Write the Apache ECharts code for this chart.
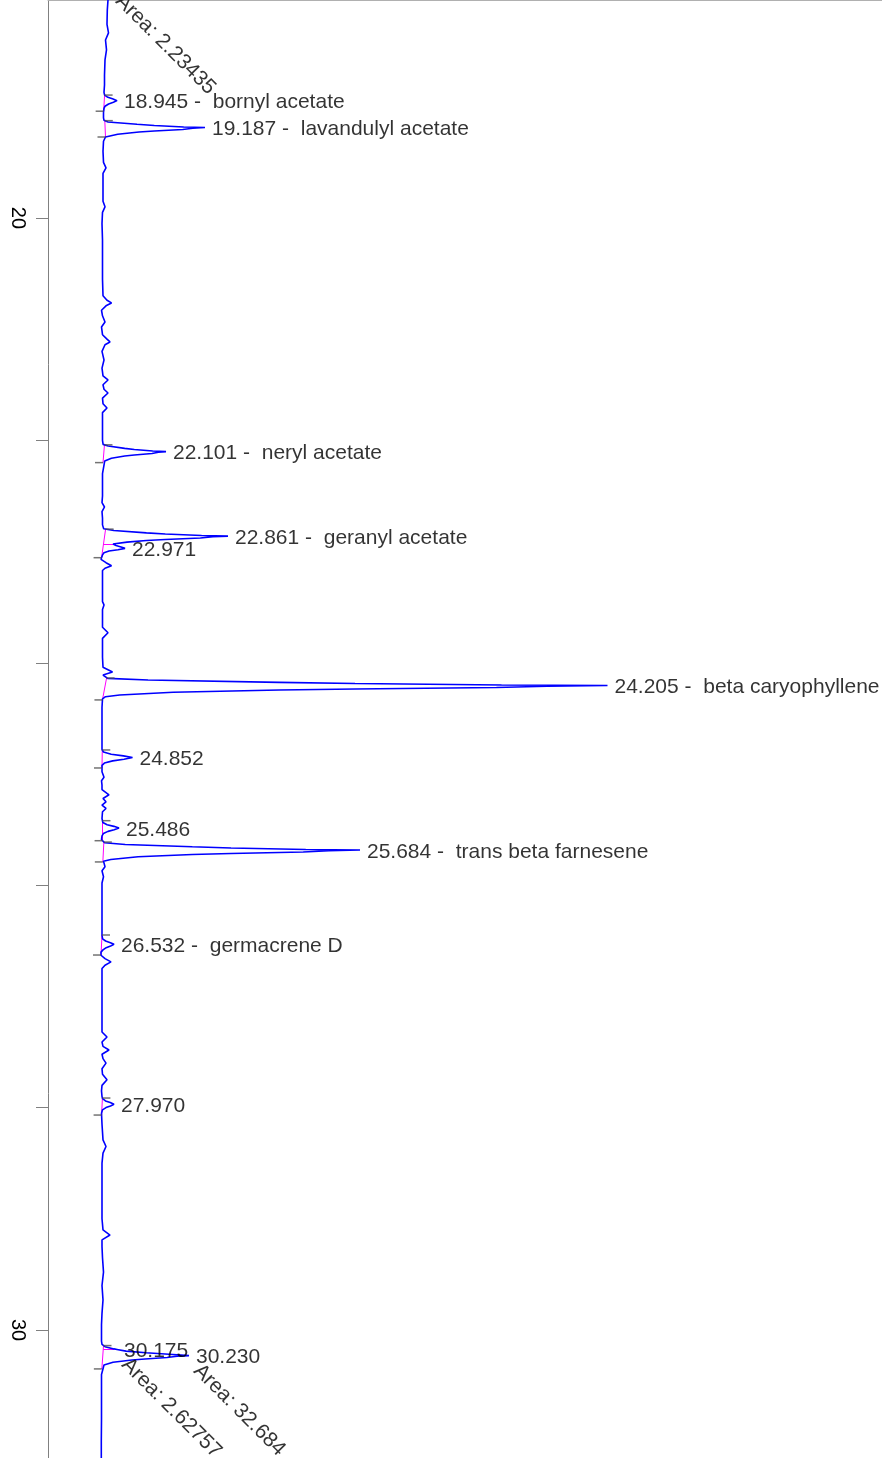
<!DOCTYPE html>
<html><head><meta charset="utf-8">
<script src="https://cdn.jsdelivr.net/npm/echarts@6/dist/echarts.min.js"></script>
<style>html,body{margin:0;padding:0;background:#fff}#c{width:882px;height:1458px}</style>
</head><body><div id="c"></div>
<script>
// Retention time (min) of each sampled point of the trace, and detector signal
const traceTimes = [17.913,17.99,18.04,18.13,18.26,18.336,18.40,18.489,18.579,18.714,18.804,18.87,
18.895,18.915,18.93,18.945,18.96,18.975,18.995,19.015,19.05,19.10,
19.122,19.137,19.158,19.168,19.182,19.187,19.193,19.204,19.218,19.227,19.247,19.272,19.287,19.31,
19.40,19.50,19.55,19.60,19.75,19.85,19.90,19.95,20.05,20.20,20.40,20.55,20.70,20.74,20.764,20.79,20.83,20.88,20.935,20.98,
21.05,21.09,21.115,21.14,21.20,21.277,21.35,21.42,21.457,21.50,21.54,21.574,21.62,21.67,21.709,21.75,21.85,21.95,22.00,
22.036,22.051,22.072,22.082,22.096,22.101,22.107,22.118,22.132,22.141,22.161,22.186,22.201,
22.30,22.40,22.50,22.56,22.599,22.64,22.70,22.76,
22.795,22.811,22.832,22.842,22.856,22.861,22.867,22.878,22.892,22.901,22.915,22.932,22.945,22.958,22.971,22.983,22.995,23.01,23.03,
23.07,23.10,23.127,23.15,23.17,23.25,23.35,23.45,23.48,23.52,23.60,23.68,23.73,23.78,23.85,23.95,24.04,24.083,24.11,24.125,
24.14,24.155,24.176,24.186,24.20,24.205,24.211,24.222,24.236,24.245,24.265,24.29,24.305,24.325,
24.40,24.50,24.60,24.70,24.78,
24.802,24.822,24.837,24.852,24.867,24.882,24.902,24.922,
24.98,25.03,25.06,25.10,25.14,25.187,25.22,25.25,25.28,25.31,25.34,25.40,
25.436,25.456,25.471,25.486,25.501,25.516,25.536,25.556,25.59,
25.619,25.634,25.655,25.665,25.679,25.684,25.69,25.701,25.715,25.724,25.744,25.769,25.784,
25.80,25.834,25.87,25.924,25.98,26.10,26.20,26.30,26.40,26.45,
26.482,26.502,26.517,26.532,26.547,26.562,26.582,26.602,
26.63,26.66,26.69,26.72,26.75,26.85,26.95,27.05,27.15,27.25,27.32,27.365,27.41,27.45,27.482,27.52,27.56,27.60,27.65,27.70,27.75,27.80,27.85,27.90,
27.92,27.94,27.955,27.97,27.985,28.00,28.02,28.05,
28.15,28.29,28.35,28.41,28.50,28.60,28.70,28.80,28.90,29.00,29.10,29.146,29.19,29.25,29.35,29.48,29.60,29.73,29.85,29.95,30.05,30.10,
30.13,30.15,30.17,30.175,30.19,30.205,30.218,30.23,30.236,30.247,30.261,30.27,30.29,30.315,30.33,
30.40,30.60,30.80,31.00,31.20];
const traceSignal = [10,8,7,6.3,6,7.5,4.5,5.5,4,3.5,3.5,3,
3.6,6.9,12.1,16,12.4,7.6,4,3,2.5,2.5,
3,7,36,53.3,82.7,104,91.8,81.7,53.3,38,16.7,4.5,3,2.5,
2,2.5,5,2,2,2,4,1.5,1,1.5,1.5,1.5,2,6,10.5,5,0.5,1.5,4,0.5,
1.5,6,9,4,1,3,1,2,7,2,3,7,1.5,2,6,1.5,1.5,1.5,1.5,
2.1,7.2,23.7,33.3,51.7,65,57.4,51,33.3,23.7,10.4,3.7,1.9,
1.5,1.5,1.5,1,3.5,1,1.5,1.5,
2.7,12.8,45.4,64.3,100.6,127,112,99.4,64.3,45.4,26,12,15,20,24,17,8,3,1.5,
0,5,10.5,4,1.5,1.5,1.5,1.5,3,1.5,1.5,1.5,7,1.5,1.5,1.5,2,11.5,2,1.5,
6.6,47,178,254,400.5,506.5,446,395.4,254,178.3,72.2,18.7,4.5,1.5,
1,1,1,1,1,
2.5,10.2,22.4,31.5,23,11.7,3.4,1,
1,3,0.5,1,1,8,2,5,1,5,1.5,1,
1.85,6.1,12.9,18,13.2,7,2.4,1,0.5,
3.6,24.2,91.3,130,204.8,259,228,202.2,130,91.3,37.1,9.8,2.5,
1,4,1,2.5,1,1,1,1,1,1,
1.6,4.6,9.4,13,9.6,5.2,2,0,
0,4,10,4,1,1,1,1,1,1,1,6,1,2,8,1,2,5,1,1.5,6,1,0.5,1,
1.6,4.5,9.2,13,9.5,5,1.5,0.5,
1,2,5,2,1,1,1,1,1,1,2,9,1,1,1.5,2.5,1,2,1,0.5,0.5,0.5,
1,4,13,16,25,45,68,88,76,66,44,31,12,3,1,
0.5,0.5,0.5,0.3,0.3];

// Labelled peaks (apex retention times) and compound names
const peakTimes = [18.945,19.187,22.101,22.861,22.971,24.205,24.852,25.486,25.684,26.532,27.970,30.175,30.230];
const peakNames = ['bornyl acetate','lavandulyl acetate','neryl acetate','geranyl acetate','','beta caryophyllene','','','trans beta farnesene','germacrene D','','',''];

// Area annotations
const areaTimes = [17.913,30.175,30.230];
const areaValues = ['2.23435','2.62757','32.684'];

// Integration windows (start / end), and drop-line times
const windowStarts = [18.895,19.125,22.040,22.798,24.137,24.784,25.420,25.612,26.448,27.914,30.140];
const windowEnds   = [19.040,19.272,22.200,23.055,24.334,24.946,25.600,25.791,26.628,28.067,30.350];
const dropTimes = [22.932,30.170];

// Axis ticks
const timeTicks = [20,22,24,26,28,30];
const timeLabels = [20,30];

function signalAt(t){
  for (let i=1;i<traceTimes.length;i++){
    if (traceTimes[i]>=t){
      const t0=traceTimes[i-1],t1=traceTimes[i];
      const f=(t-t0)/(t1-t0);
      return traceSignal[i-1]+f*(traceSignal[i]-traceSignal[i-1]);
    }
  }
  return traceSignal[traceSignal.length-1];
}

const FONT='"Liberation Sans", Arial, sans-serif';
const tracePts = traceTimes.map((t,i)=>[traceSignal[i],t]);
const baseLines = windowStarts.map((s,i)=>({coords:[[signalAt(s),s],[signalAt(windowEnds[i]),windowEnds[i]]]}));
const dropLines = dropTimes.map(t=>{
  const k = windowStarts.findIndex((s,i)=>s<=t && windowEnds[i]>=t);
  const s=windowStarts[k], e=windowEnds[k];
  const bs=signalAt(s), be=signalAt(e);
  const b = bs+(be-bs)*(t-s)/(e-s);
  return {coords:[[b,t],[signalAt(t),t]]};
});
const startMarks = windowStarts.map(t=>[signalAt(t),t]);
const endMarks = windowEnds.map(t=>[signalAt(t),t]);
const peakLabelData = peakTimes.map((t,i)=>({
  name: peakNames[i] ? t.toFixed(3)+' -  '+peakNames[i] : t.toFixed(3),
  value:[signalAt(t),t]
}));
const areaData = areaTimes.map((t,i)=>({name:'Area: '+areaValues[i], value:[signalAt(t),t]}));

const chart = echarts.init(document.getElementById('c'));
chart.setOption({
  animation:false,
  backgroundColor:'#ffffff',
  grid:{left:48,right:0,top:0,bottom:0},
  xAxis:{type:'value',min:-53,max:781,position:'top',show:true,
    axisLine:{show:true,onZero:false,lineStyle:{color:'#b0b0b0',width:1}},
    axisTick:{show:false},axisLabel:{show:false},splitLine:{show:false}},
  yAxis:{type:'value',inverse:true,min:18.04,max:31.151,position:'left',
    axisLine:{show:true,onZero:false,lineStyle:{color:'#808080',width:1}},
    axisTick:{show:true,length:12,customValues:timeTicks,lineStyle:{color:'#808080',width:1}},
    axisLabel:{show:true,customValues:timeLabels,rotate:-90,fontSize:20,color:'#000',fontFamily:FONT,margin:20},
    splitLine:{show:false}},
  series:[
    {type:'lines',coordinateSystem:'cartesian2d',data:baseLines.concat(dropLines),
     lineStyle:{color:'#ff00ff',width:1,opacity:1},z:2,silent:true},
    {type:'line',data:tracePts,showSymbol:false,symbol:'none',
     lineStyle:{color:'#0000ff',width:1.6},z:3},
    {type:'scatter',data:startMarks,symbol:'rect',symbolSize:[8,1.5],symbolOffset:[4,0],
     itemStyle:{color:'#505050'},z:4,clip:false},
    {type:'scatter',data:endMarks,symbol:'rect',symbolSize:[8,1.5],symbolOffset:[-4,0],
     itemStyle:{color:'#505050'},z:4,clip:false},
    {type:'scatter',data:peakLabelData,symbolSize:0,clip:false,z:5,
     label:{show:true,position:'right',distance:7,offset:[0,2],formatter:p=>p.name,fontSize:21,color:'#000',fontFamily:FONT}},
    {type:'scatter',data:areaData,symbolSize:0,clip:false,z:5,
     label:{show:true,position:'inside',align:'left',verticalAlign:'middle',rotate:-45,offset:[14,3],
       formatter:p=>p.name,fontSize:21,color:'#000',fontFamily:FONT}}
  ]
});
</script></body></html>
